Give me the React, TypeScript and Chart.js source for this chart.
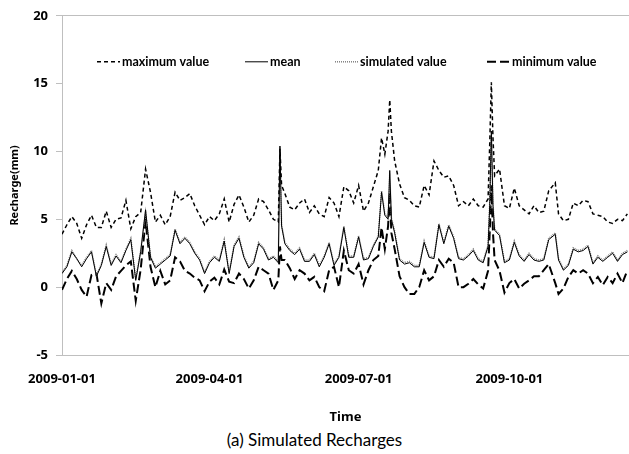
import React, { useEffect, useRef } from 'react';
import { Chart, registerables } from 'chart.js';

Chart.register(...registerables);

// Day index from 2009-01-01
const DAYS = [
  0, 3, 6, 9, 12, 15, 18, 21, 24, 27, 30, 33, 36, 39, 42, 45, 48, 51, 54, 57, 60,
  63, 66, 69, 72, 75, 78, 81, 84, 87, 90, 93, 96, 99, 102, 105, 108, 111, 114, 117,
  120, 123, 126, 129, 132, 133, 134, 136, 139, 142, 145, 148, 151, 154, 157, 160, 163, 166, 169, 172, 175,
  178, 181, 184, 187, 190, 193, 195, 197, 199, 200, 201, 203, 206, 209, 212, 215, 218, 221, 224, 227, 230, 233,
  236, 239, 242, 245, 248, 251, 254, 257, 260, 261, 262, 263, 264, 267, 270, 273, 276, 279, 282, 285, 288, 291,
  294, 297, 301, 303, 306, 309, 312, 315, 318, 321, 324, 327, 330, 333, 336, 339, 342, 345,
];

const MAX_VALUE = [
  3.9, 4.6, 5.2, 4.7, 3.6, 4.6, 5.3, 4.4, 4.4, 5.6, 4.4, 5.0, 5.1, 6.4, 4.3, 5.2, 5.5, 8.7, 7.0, 4.8, 5.3,
  4.6, 5.2, 7.0, 6.4, 6.6, 6.9, 6.0, 5.3, 4.6, 5.2, 4.9, 5.4, 6.5, 4.8, 6.1, 6.8, 5.9, 4.8, 5.3,
  6.5, 6.3, 5.7, 5.0, 4.8, 10.2, 7.5, 6.9, 5.9, 5.7, 6.2, 6.5, 5.5, 6.0, 5.4, 5.2, 6.6, 6.2, 5.2, 7.4, 7.1,
  6.2, 7.5, 5.6, 6.2, 7.4, 8.6, 11.0, 9.8, 11.5, 13.8, 11.5, 9.3, 7.6, 6.6, 6.4, 6.0, 5.9, 7.5, 6.8, 9.3, 8.6, 8.1,
  8.2, 7.5, 6.0, 6.3, 6.0, 6.5, 6.0, 5.9, 6.5, 10.5, 15.1, 11.0, 8.2, 8.7, 6.0, 5.8, 7.3, 6.0, 5.7, 5.4, 6.0, 5.5,
  5.6, 7.1, 7.7, 5.4, 4.9, 5.0, 6.2, 6.0, 6.4, 6.3, 5.4, 5.3, 5.2, 4.8, 4.7, 5.0, 4.9, 5.4,
];

const MEAN_VALUE = [
  1.0, 1.5, 2.6, 2.1, 1.5, 2.1, 2.6, 0.8, 1.6, 3.0, 1.6, 2.3, 1.8, 2.7, 3.5, 0.5, 2.6, 5.7, 2.2, 1.4, 1.7,
  2.0, 2.3, 4.2, 3.2, 3.6, 3.2, 2.5, 2.0, 1.0, 1.8, 2.2, 1.9, 3.4, 1.0, 3.0, 3.6, 2.2, 1.4, 1.8,
  3.2, 2.8, 2.0, 2.2, 1.8, 10.4, 4.5, 3.2, 2.7, 2.4, 2.8, 1.9, 1.9, 2.4, 1.5, 2.2, 3.2, 1.6, 2.2, 4.4, 2.2,
  2.2, 3.7, 2.0, 2.1, 3.0, 3.7, 7.0, 5.3, 5.0, 8.6, 5.0, 4.0, 2.0, 1.7, 1.8, 1.5, 1.5, 3.3, 2.2, 2.1, 4.6, 3.2,
  4.5, 3.6, 2.1, 2.0, 2.3, 2.7, 2.0, 1.8, 3.0, 6.0, 11.5, 6.0, 4.2, 3.8, 1.8, 2.0, 3.3, 2.3, 1.9, 2.4, 2.0, 1.9,
  2.0, 3.5, 3.9, 2.0, 1.25, 1.6, 2.8, 2.6, 2.7, 3.0, 1.7, 2.2, 1.9, 2.2, 2.5, 1.9, 2.4, 2.6,
];

const SIMULATED_VALUE = [
  1.1, 1.6, 2.7, 2.1, 1.6, 2.2, 2.7, 0.9, 1.7, 3.1, 1.7, 2.4, 1.9, 2.8, 3.6, 0.6, 2.7, 5.5, 2.3, 1.5, 1.8,
  2.1, 2.4, 4.3, 3.3, 3.7, 3.3, 2.6, 2.1, 1.1, 1.9, 2.3, 2.0, 3.5, 1.1, 3.1, 3.7, 2.3, 1.5, 1.9,
  3.3, 2.9, 2.1, 2.3, 1.9, 9.8, 4.6, 3.3, 2.8, 2.5, 2.9, 2.0, 2.0, 2.5, 1.6, 2.3, 3.3, 1.7, 2.3, 4.5, 2.3,
  2.3, 3.8, 2.1, 2.2, 3.1, 3.8, 7.1, 5.4, 5.1, 8.4, 5.1, 4.1, 2.1, 1.8, 1.9, 1.6, 1.6, 3.4, 2.3, 2.2, 4.7, 3.3,
  4.6, 3.7, 2.2, 2.1, 2.4, 2.8, 2.1, 1.9, 3.1, 6.1, 11.2, 6.1, 4.3, 3.9, 1.9, 2.1, 3.4, 2.4, 2.0, 2.5, 2.1, 2.0,
  2.1, 3.6, 4.0, 2.1, 1.35, 1.7, 2.9, 2.7, 2.8, 3.1, 1.8, 2.3, 2.0, 2.3, 2.6, 2.0, 2.5, 2.7,
];

const MIN_VALUE = [
  -0.2, 0.6, 1.2, 0.6, -0.2, -0.7, 0.9, 1.0, -1.2, 0.3, -0.2, 0.8, 1.2, 1.6, 1.9, -1.0, 1.3, 4.9, 1.5, 0.0, 1.2,
  0.2, 0.5, 2.2, 1.9, 1.2, 1.0, 0.7, 0.5, -0.3, 0.4, 0.7, 0.2, 1.3, 0.4, 0.3, 1.0, 0.6, -0.1, 0.5,
  1.5, 1.25, 1.0, -0.2, 0.5, 3.0, 2.0, 2.0, 1.4, 0.6, 1.25, 1.0, 0.5, 0.76, 0.0, -0.3, 1.25, 1.5, 0.0, 2.7, 1.25,
  1.0, 1.7, 0.2, 1.25, 2.0, 2.3, 4.4, 2.8, 4.5, 7.0, 4.0, 2.8, 0.8, 0.0, -0.5, -0.5, 0.0, 1.25, 0.5, 0.8, 2.0, 1.5,
  2.1, 1.8, 0.0, 0.0, 0.25, 0.6, 0.2, -0.1, 1.2, 4.0, 7.5, 4.0, 2.0, 1.2, -0.4, 0.3, 0.6, -0.1, 0.25, 0.5, 0.8, 0.8,
  1.25, 1.7, 0.3, -0.5, -0.1, 0.75, 1.25, 1.0, 1.25, 1.0, 0.3, 0.75, 0.15, 0.75, 0.3, 1.0, 0.3, 1.25,
];

const SERIES_NAMES = ['maximum value', 'mean', 'simulated value', 'minimum value'];
const X_TICK_DAYS = [0, 90, 181, 273];
const X_TICK_LABELS = ['2009-01-01', '2009-04-01', '2009-07-01', '2009-10-01'];
const X_MAX_DAY = 346;
const Y_MIN = -5;
const Y_MAX = 20;
const Y_STEP = 5;

const FONT = '"Noto Sans", "DejaVu Sans", sans-serif';
const LEGEND_FONT = 'Lato, "Noto Sans", sans-serif';

const toPoints = (vals: number[]) => DAYS.map((d, i) => ({ x: d, y: vals[i] }));

const legendPlugin = {
  id: 'inlineLegend',
  afterDatasetsDraw(chart: any) {
    const ctx = chart.ctx;
    const area = chart.chartArea;
    const y = area.top + 46;
    const offsets = [35, 183, 273, 425];
    ctx.save();
    ctx.font = `bold 12.5px ${LEGEND_FONT}`;
    ctx.textBaseline = 'middle';
    ctx.textAlign = 'left';
    chart.data.datasets.forEach((ds: any, i: number) => {
      const x0 = area.left + offsets[i];
      ctx.beginPath();
      ctx.setLineDash(ds.borderDash || []);
      ctx.strokeStyle = ds.borderColor;
      ctx.lineWidth = ds.borderWidth;
      ctx.moveTo(x0, y);
      ctx.lineTo(x0 + 23, y);
      ctx.stroke();
      ctx.setLineDash([]);
      ctx.fillStyle = '#000';
      ctx.fillText(ds.label, x0 + 25, y);
    });
    ctx.restore();
  },
};

export default function App() {
  const ref = useRef<HTMLCanvasElement | null>(null);

  useEffect(() => {
    if (!ref.current) return;
    const chart = new Chart(ref.current, {
      type: 'line',
      data: {
        datasets: [
          {
            label: SERIES_NAMES[0],
            data: toPoints(MAX_VALUE),
            borderColor: '#000',
            borderWidth: 1.5,
            borderDash: [4, 3],
            pointRadius: 0,
            fill: false,
          },
          {
            label: SERIES_NAMES[1],
            data: toPoints(MEAN_VALUE),
            borderColor: '#000',
            borderWidth: 1,
            borderDash: [],
            pointRadius: 0,
            fill: false,
          },
          {
            label: SERIES_NAMES[2],
            data: toPoints(SIMULATED_VALUE),
            borderColor: '#808080',
            borderWidth: 1.5,
            borderDash: [1, 1],
            pointRadius: 0,
            fill: false,
          },
          {
            label: SERIES_NAMES[3],
            data: toPoints(MIN_VALUE),
            borderColor: '#000',
            borderWidth: 2,
            borderDash: [9, 4],
            pointRadius: 0,
            fill: false,
          },
        ],
      },
      options: {
        animation: false,
        responsive: false,
        maintainAspectRatio: false,
        layout: { padding: { top: 11, right: 0, left: 0, bottom: 0 } },
        plugins: {
          legend: { display: false },
          tooltip: { enabled: false },
        },
        elements: { line: { tension: 0 }, point: { radius: 0 } },
        scales: {
          x: {
            type: 'linear',
            min: 0,
            max: X_MAX_DAY,
            afterBuildTicks: (s: any) => {
              s.ticks = X_TICK_DAYS.map((v) => ({ value: v }));
            },
            ticks: {
              autoSkip: false,
              maxRotation: 0,
              padding: 16,
              color: '#000',
              font: { family: FONT, size: 13, weight: 'bold' },
              callback: (v: any) => {
                const i = X_TICK_DAYS.indexOf(Number(v));
                return i >= 0 ? X_TICK_LABELS[i] : '';
              },
            },
            grid: { display: false, drawTicks: false },
            border: { display: false },
            title: {
              display: true,
              text: 'Time',
              color: '#000',
              font: { family: FONT, size: 13, weight: 'bold' },
              padding: { top: 0, bottom: 3 },
            },
            afterFit: (s: any) => {
              s.height = 73;
            },
          },
          y: {
            min: Y_MIN,
            max: Y_MAX,
            ticks: {
              stepSize: Y_STEP,
              color: '#000',
              padding: 8,
              font: { family: FONT, size: 13, weight: 'bold' },
            },
            grid: {
              color: (c: any) =>
                c.tick && (c.tick.value === Y_MAX || c.tick.value === Y_MIN) ? '#bfbfbf' : 'rgba(0,0,0,0)',
              tickColor: '#bfbfbf',
              tickLength: 6,
              drawTicks: true,
            },
            border: { display: true, color: '#bfbfbf' },
            title: {
              display: true,
              text: 'Recharge(mm)',
              color: '#000',
              font: { family: FONT, size: 11, weight: 'bold' },
              padding: { top: 8, bottom: 0 },
            },
            afterFit: (s: any) => {
              s.width = 62;
            },
          },
        },
      },
      plugins: [legendPlugin],
    } as any);
    return () => chart.destroy();
  }, []);

  return (
    <div style={{ position: 'absolute', left: 0, top: 0, width: 629, height: 454, background: '#fff' }}>
      <canvas ref={ref} width={629} height={428} style={{ display: 'block', width: 629, height: 428 }} />
      <div
        style={{
          position: 'absolute',
          left: 0,
          top: 429,
          width: 629,
          textAlign: 'center',
          fontFamily: 'Lato, "Noto Sans", sans-serif',
          fontSize: 17,
          lineHeight: '22px',
          color: '#000',
        }}
      >
        (a) Simulated Recharges
      </div>
    </div>
  );
}
